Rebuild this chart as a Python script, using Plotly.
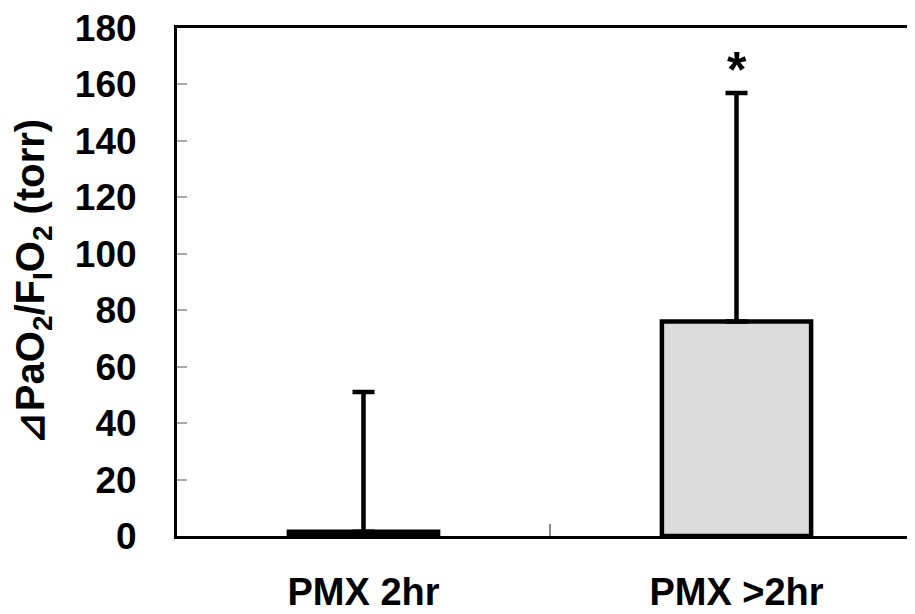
import plotly.graph_objects as go

categories = ["PMX 2hr", "PMX >2hr"]
means = [1.5, 76]
sd_upper = [49.5, 81]
y_ticks = [0, 20, 40, 60, 80, 100, 120, 140, 160, 180]
sig_labels = ["", "*"]
sig_y = [None, 165]

FONT = "Liberation Sans, Arial, sans-serif"

fig = go.Figure()
fig.add_trace(go.Bar(
    x=categories, y=means, width=0.40,
    marker=dict(color="#dcdcdc", line=dict(color="black", width=4.5)),
    error_y=dict(type="data", array=sd_upper, arrayminus=[0, 0], symmetric=False,
                 color="black", thickness=4.5, width=11),
    showlegend=False, hoverinfo="skip",
))

for c, lab, yy in zip(categories, sig_labels, sig_y):
    if lab:
        fig.add_annotation(x=c, y=yy, text="<b>" + lab + "</b>", showarrow=False,
                           font=dict(family=FONT, size=50, color="black"),
                           xanchor="center", yanchor="middle")

fig.update_layout(
    width=915, height=614,
    margin=dict(l=169, r=0, t=20, b=86),
    paper_bgcolor="white", plot_bgcolor="white",
    font=dict(family=FONT, color="black"),
    xaxis=dict(
        type="category", range=[-0.5, 1.5], automargin=False,
        showline=True, linecolor="black", linewidth=3, mirror=True,
        ticks="inside", tickson="boundaries", ticklen=12, tickcolor="#888888", tickwidth=1.5,
        tickfont=dict(family=FONT, size=38, color="black", weight="bold"),
        ticklabelstandoff=20, ticklabeloverflow="allow",
        showgrid=False, zeroline=False,
    ),
    yaxis=dict(
        range=[0, 180], tickvals=y_ticks, automargin=False,
        showline=True, linecolor="black", linewidth=3, mirror=False,
        ticks="inside", ticklen=10, tickcolor="#aaaaaa", tickwidth=1.5,
        tickfont=dict(family=FONT, size=37, color="black", weight="bold"),
        ticklabelstandoff=30, ticklabeloverflow="allow",
        showgrid=False, zeroline=False,
        title=dict(text="<b>⊿PaO<sub>2</sub>/F<sub>I</sub>O<sub>2</sub> (torr)</b>",
                   font=dict(family=FONT, size=40, color="black"), standoff=29),
    ),
)

fig.write_html("out.html")
